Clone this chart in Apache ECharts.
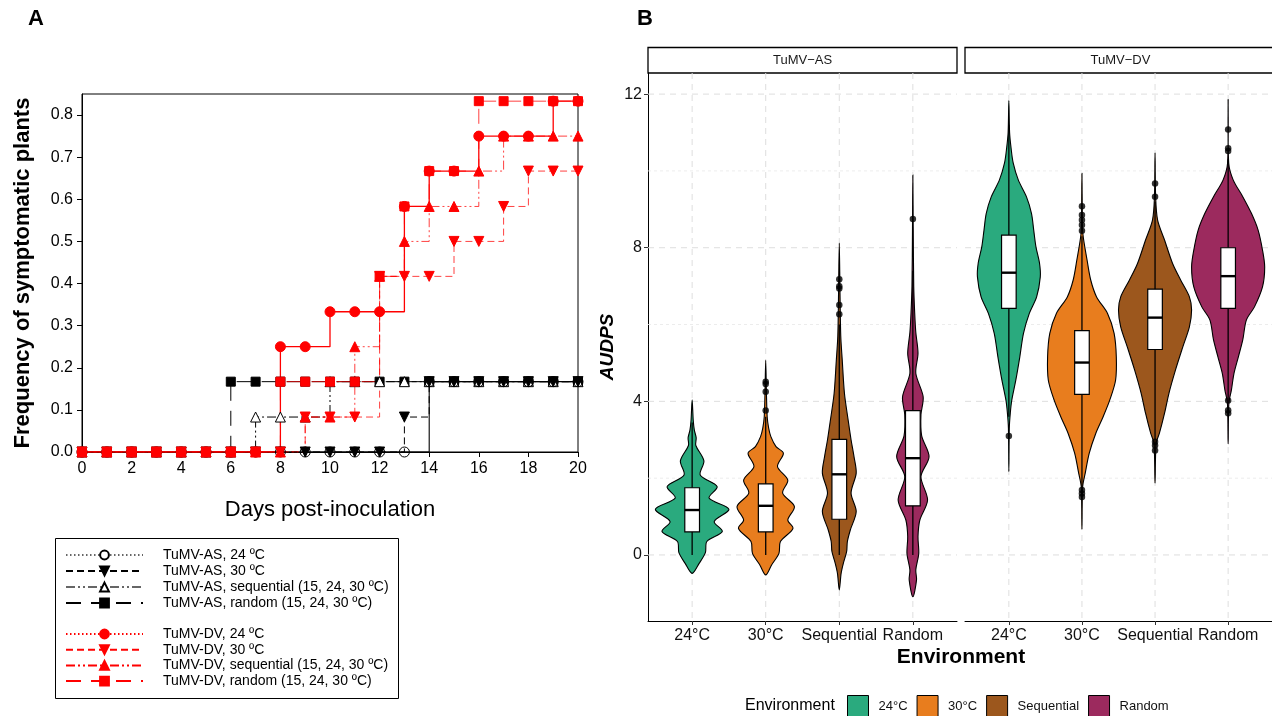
<!DOCTYPE html>
<html><head><meta charset="utf-8">
<script src="https://cdn.jsdelivr.net/npm/echarts@6/dist/echarts.min.js"></script>
<style>html,body{margin:0;padding:0;background:#fff}#c{width:1272px;height:716px}</style>
</head><body><div id="c"></div>
<script>
// ================= Panel A data =================
const days   = [0,1,2,3,4,5,6,7,8,9,10,11,12,13,14,15,16,17,18,19,20];
const asT24  = [0,0,0,0,0,0,0,0,0,0,0,0,0,0,0.167,0.167,0.167,0.167,0.167,0.167,0.167];
const asT30  = [0,0,0,0,0,0,0,0,0,0,0,0,0,0.083,0.167,0.167,0.167,0.167,0.167,0.167,0.167];
const asSeq  = [0,0,0,0,0,0,0,0.083,0.083,0.083,0.167,0.167,0.167,0.167,0.167,0.167,0.167,0.167,0.167,0.167,0.167];
const asRand = [0,0,0,0,0,0,0.167,0.167,0.167,0.167,0.167,0.167,0.167,0.167,0.167,0.167,0.167,0.167,0.167,0.167,0.167];
const dvT24  = [0,0,0,0,0,0,0,0,0.25,0.25,0.333,0.333,0.333,0.583,0.667,0.667,0.75,0.75,0.75,0.833,0.833];
const dvT30  = [0,0,0,0,0,0,0,0,0,0.083,0.083,0.083,0.417,0.417,0.417,0.5,0.5,0.583,0.667,0.667,0.667];
const dvSeq  = [0,0,0,0,0,0,0,0,0,0.083,0.083,0.25,0.417,0.5,0.583,0.583,0.667,0.75,0.75,0.75,0.75];
const dvRand = [0,0,0,0,0,0,0,0,0.167,0.167,0.167,0.167,0.417,0.583,0.667,0.667,0.833,0.833,0.833,0.833,0.833];
const seriesNamesA = ['TuMV-AS, 24 ºC','TuMV-AS, 30 ºC','TuMV-AS, sequential (15, 24, 30 ºC)','TuMV-AS, random (15, 24, 30 ºC)',
                      'TuMV-DV, 24 ºC','TuMV-DV, 30 ºC','TuMV-DV, sequential (15, 24, 30 ºC)','TuMV-DV, random (15, 24, 30 ºC)'];
const yTicksA = [0,0.1,0.2,0.3,0.4,0.5,0.6,0.7,0.8];

// ================= Panel B data =================
const facetNames = ['TuMV\u2212AS','TuMV\u2212DV'];
const envLabels  = ['24°C','30°C','Sequential','Random'];
const yTicksB = [0,4,8,12];
const yMinorB = [2,6,10];
// violin outlines: [AUDPS value, half width (category units)]
const vAS24 = [[4.04,0],[3.5,0.015],[3.25,0.03],[3.05,0.055],[2.85,0.05],[2.45,0.16],[2.08,0.11],[1.78,0.34],[1.48,0.23],[1.19,0.5],[0.87,0.3],[0.61,0.41],[0.35,0.2],[0.06,0.18],[-0.22,0.095],[-0.48,0]];
const vAS30 = [[5.07,0],[4.2,0.01],[3.6,0.02],[3.3,0.04],[3.08,0.07],[2.82,0.14],[2.65,0.24],[2.3,0.16],[1.95,0.3],[1.61,0.23],[1.26,0.39],[0.91,0.3],[0.69,0.37],[0.35,0.2],[0.04,0.18],[-0.26,0.08],[-0.52,0]];
const vASSeq = [[8.12,0],[6.8,0.01],[5.7,0.02],[5.08,0.04],[4.21,0.07],[3.52,0.12],[3.0,0.16],[2.56,0.2],[2.13,0.23],[1.61,0.16],[1.13,0.23],[0.65,0.15],[0.35,0.11],[0.09,0.1],[-0.22,0.055],[-0.48,0.025],[-0.91,0]];
const vASRand = [[9.89,0],[8.5,0.005],[7.0,0.012],[6.3,0.025],[5.8,0.04],[5.25,0.07],[4.73,0.04],[4.12,0.14],[3.65,0.11],[3.1,0.12],[2.56,0.22],[2.04,0.11],[1.43,0.2],[0.91,0.095],[0.48,0.07],[0.04,0.08],[-0.39,0.04],[-0.65,0.05],[-1.09,0]];
const vDV24 = [[11.83,0],[11.0,0.01],[10.6,0.03],[10.2,0.06],[9.76,0.13],[9.33,0.24],[8.89,0.31],[8.46,0.34],[8.03,0.37],[7.59,0.42],[7.24,0.43],[6.72,0.38],[6.29,0.28],[5.77,0.2],[5.16,0.15],[4.55,0.095],[4.03,0.04],[3.7,0.02],[3.3,0.006],[2.17,0]];
const vDV30 = [[9.93,0],[8.9,0.005],[8.37,0.012],[7.68,0.07],[7.16,0.12],[6.72,0.2],[6.29,0.35],[5.77,0.44],[5.16,0.47],[4.55,0.46],[4.03,0.38],[3.6,0.29],[3.17,0.19],[2.65,0.1],[2.13,0.045],[1.78,0.01],[0.67,0]];
const vDVSeq = [[10.47,0],[9.33,0.008],[8.72,0.035],[8.2,0.13],[7.59,0.24],[7.16,0.35],[6.72,0.47],[6.38,0.5],[5.94,0.47],[5.42,0.38],[4.82,0.28],[4.21,0.19],[3.69,0.13],[3.17,0.06],[2.91,0.015],[1.87,0]];
const vDVRand = [[11.86,0],[10.2,0.008],[9.76,0.07],[9.33,0.2],[8.89,0.32],[8.46,0.41],[7.94,0.47],[7.5,0.5],[6.98,0.47],[6.46,0.36],[6.12,0.25],[5.6,0.2],[5.16,0.14],[4.73,0.08],[4.3,0.045],[3.95,0.01],[2.89,0]];
// box stats: [whisker low, Q1, median, Q3, whisker high]
const boxAS24 = [0, 0.60, 1.17, 1.75, 3.45];
const boxAS30 = [0, 0.60, 1.28, 1.85, 3.6];
const boxASSeq = [0, 0.93, 2.10, 3.01, 6.0];
const boxASRand = [0, 1.28, 2.52, 3.76, 7.4];
const boxDV24 = [3.6, 6.42, 7.35, 8.33, 11.2];
const boxDV30 = [1.75, 4.18, 5.01, 5.84, 8.3];
const boxDVSeq = [3.0, 5.35, 6.18, 6.92, 9.2];
const boxDVRand = [4.1, 6.42, 7.26, 8.0, 10.3];
// outliers
const outAS24 = [];
const outAS30 = [4.51, 4.45, 4.25, 3.76];
const outASSeq = [7.18, 7.0, 6.94, 6.51, 6.27];
const outASRand = [8.75];
const outDV24 = [3.10];
const outDV30 = [9.08, 8.85, 8.72, 8.59, 8.44, 1.69, 1.6, 1.51];
const outDVSeq = [9.67, 9.33, 2.95, 2.85, 2.72];
const outDVRand = [11.08, 10.59, 10.52, 4.02, 3.77, 3.69];

// ================= styles / layout =================
const FONT = "'Liberation Sans', Arial, Helvetica, sans-serif";
const envColors = ['#2AAA7E', '#E87D1E', '#9C571D', '#9C2A5E'];
const RED = '#ff0000', BLK = '#000000';
const gridA = {left: 82, top: 94, width: 496, height: 358};
const gridB1 = {left: 648, top: 73, width: 309, height: 548};
const gridB2 = {left: 965, top: 73, width: 311, height: 548};

const dataA = [asT24, asT30, asSeq, asRand, dvT24, dvT30, dvSeq, dvRand];
const styleA = [
  {color: BLK, symbol: 'circle', rot: 0, size: 10, fill: 'rgba(0,0,0,0)', legFill: '#fff', legDash: [1.5, 2.5], legColor: '#666', dash: 'solid', w: 1.1},
  {color: BLK, symbol: 'triangle', rot: 180, size: 10, fill: BLK, legFill: BLK, legDash: [7, 4], legColor: BLK, dash: [7, 4], w: 1},
  {color: BLK, symbol: 'triangle', rot: 0, size: 10, fill: '#fff', legFill: '#fff', legDash: [9, 3, 2, 3, 2, 3], legColor: '#666', dash: [9, 3, 2, 3, 2, 3], w: 1},
  {color: BLK, symbol: 'rect', rot: 0, size: 9, fill: BLK, legFill: BLK, legDash: [15, 10], legColor: BLK, dash: [15, 10], w: 1},
  {color: RED, symbol: 'circle', rot: 0, size: 10, fill: RED, legFill: RED, legDash: [1.5, 2.5], legColor: RED, dash: 'solid', w: 1.3},
  {color: RED, symbol: 'triangle', rot: 180, size: 10, fill: RED, legFill: RED, legDash: [7, 4], legColor: RED, dash: [7, 4], w: 1},
  {color: RED, symbol: 'triangle', rot: 0, size: 10, fill: RED, legFill: RED, legDash: [9, 3, 2, 3, 2, 3], legColor: RED, dash: [9, 3, 2, 3, 2, 3], w: 1},
  {color: RED, symbol: 'rect', rot: 0, size: 9, fill: RED, legFill: RED, legDash: [15, 10], legColor: RED, dash: [15, 10], w: 1}
];
const plotOrder = [3, 2, 1, 0, 5, 6, 7, 4];

const series = [];
// legend-only series (panel A)
seriesNamesA.forEach((nm, i) => {
  const s = styleA[i];
  series.push({
    type: 'line', name: nm, data: [], xAxisIndex: 0, yAxisIndex: 0,
    symbol: s.symbol, symbolRotate: s.rot, symbolSize: s.size,
    lineStyle: {color: s.legColor, width: 1.2, type: s.legDash},
    itemStyle: {color: s.legFill, borderColor: s.color, borderWidth: 1}
  });
});
// plotted step series (panel A)
plotOrder.forEach(i => {
  const s = styleA[i];
  series.push({
    type: 'line', name: 'plot ' + i, step: 'end', xAxisIndex: 0, yAxisIndex: 0,
    data: days.map((d, k) => [d, dataA[i][k]]),
    symbol: s.symbol, symbolRotate: s.rot, symbolSize: s.size, showAllSymbol: true,
    lineStyle: {color: s.color, width: s.w, type: s.dash, opacity: s.color === RED && s.dash !== 'solid' ? 0.75 : 1},
    itemStyle: {color: s.fill, borderColor: s.color, borderWidth: 1},
    emphasis: {disabled: true}, animation: false, z: 3
  });
});

// ---------- Panel B ----------
const profiles = [[vAS24, vAS30, vASSeq, vASRand], [vDV24, vDV30, vDVSeq, vDVRand]];
const boxes = [[boxAS24, boxAS30, boxASSeq, boxASRand], [boxDV24, boxDV30, boxDVSeq, boxDVRand]];
const outliers = [[outAS24, outAS30, outASSeq, outASRand], [outDV24, outDV30, outDVSeq, outDVRand]];

function gridRender(horizontal, majorSet) {
  return function (params, api) {
    const cs = params.coordSys;
    const v = horizontal ? api.value(1) : api.value(0);
    const major = majorSet.indexOf(v) >= 0;
    const style = major ? {stroke: '#dedede', lineWidth: 1, lineDash: [6, 5]}
                        : {stroke: '#e8e8e8', lineWidth: 0.8, lineDash: [3, 3]};
    if (horizontal) {
      const p = api.coord([1, v]);
      return {type: 'line', shape: {x1: cs.x, y1: p[1], x2: cs.x + cs.width, y2: p[1]}, style};
    }
    const p = api.coord([v, 0]);
    return {type: 'line', shape: {x1: p[0], y1: cs.y, x2: p[0], y2: cs.y + cs.height}, style};
  };
}

function violinRender(profile, stats) {
  return function (params, api) {
    const cat = api.value(0);
    const right = profile.map(p => api.coord([cat + p[1], p[0]]));
    const left = profile.slice(1, -1).reverse().map(p => api.coord([cat - p[1], p[0]]));
    const pts = right.concat(left);
    const color = api.visual('color');
    const [lo, q1, med, q3, hi] = stats;
    const bw = 0.1;
    const a = api.coord([cat - bw, q3]), b = api.coord([cat + bw, q1]);
    const m1 = api.coord([cat - bw, med]), m2 = api.coord([cat + bw, med]);
    const w1 = api.coord([cat, lo]), w2 = api.coord([cat, hi]);
    return {type: 'group', children: [
      {type: 'polygon', shape: {points: pts, smooth: 0.3}, style: {fill: color, stroke: '#000', lineWidth: 1.1}},
      {type: 'line', shape: {x1: w1[0], y1: w1[1], x2: w2[0], y2: w2[1]}, style: {stroke: '#000', lineWidth: 1.3}},
      {type: 'rect', shape: {x: a[0], y: a[1], width: b[0] - a[0], height: b[1] - a[1]}, style: {fill: '#fff', stroke: '#000', lineWidth: 1.2}},
      {type: 'line', shape: {x1: m1[0], y1: m1[1], x2: m2[0], y2: m2[1]}, style: {stroke: '#000', lineWidth: 2.4}}
    ]};
  };
}

const catPos = envLabels.map((_, i) => i + 1);
[0, 1].forEach(f => {
  const ax = f + 1;
  series.push({type: 'custom', name: 'hgrid' + f, xAxisIndex: ax, yAxisIndex: ax, z: 1, silent: true,
    data: yTicksB.concat(yMinorB).map(v => [1, v]), renderItem: gridRender(true, yTicksB)});
  series.push({type: 'custom', name: 'vgrid' + f, xAxisIndex: ax, yAxisIndex: ax, z: 1, silent: true,
    data: catPos.map(c => [c, 0]), renderItem: gridRender(false, catPos)});
  envLabels.forEach((env, e) => {
    series.push({type: 'custom', name: env, xAxisIndex: ax, yAxisIndex: ax, z: 2, silent: true,
      itemStyle: {color: envColors[e]},
      data: [[catPos[e], boxes[f][e][2]]], renderItem: violinRender(profiles[f][e], boxes[f][e])});
  });
  const pts = [];
  outliers[f].forEach((arr, e) => arr.forEach(v => pts.push([catPos[e], v])));
  series.push({type: 'scatter', name: 'out' + f, xAxisIndex: ax, yAxisIndex: ax, z: 4, silent: true,
    data: pts, symbolSize: 6.5, itemStyle: {color: '#000'}});
});

const axisLineBlack = {show: true, onZero: false, lineStyle: {color: '#000', width: 1}};
function xAxisB(g) {
  return {gridIndex: g, type: 'value', min: 0.4, max: 4.6,
    axisLine: axisLineBlack,
    axisTick: {show: true, customValues: catPos, length: 4, lineStyle: {color: '#333'}},
    axisLabel: {customValues: catPos, formatter: v => envLabels[Math.round(v) - 1], fontSize: 16, color: '#111', margin: 7, fontFamily: FONT},
    splitLine: {show: false}};
}

const option = {
  animation: false,
  backgroundColor: '#fff',
  textStyle: {fontFamily: FONT},
  grid: [
    Object.assign({show: true, borderColor: '#000', borderWidth: 1, backgroundColor: 'transparent'}, gridA),
    gridB1, gridB2
  ],
  xAxis: [
    {gridIndex: 0, type: 'value', min: 0, max: 20, interval: 2,
      axisLine: {show: true, onZero: false, lineStyle: {color: '#000'}},
      axisTick: {show: true, length: 5, lineStyle: {color: '#000'}},
      axisLabel: {fontSize: 16, color: '#000', margin: 9, fontFamily: FONT},
      splitLine: {show: false},
      name: 'Days post-inoculation', nameLocation: 'middle', nameGap: 47,
      nameTextStyle: {fontSize: 22, color: '#000', fontFamily: FONT}},
    xAxisB(1), xAxisB(2)
  ],
  yAxis: [
    {gridIndex: 0, type: 'value', min: 0, max: 0.85,
      axisLine: {show: true, onZero: false, lineStyle: {color: '#000'}},
      axisTick: {show: true, customValues: yTicksA, length: 5, lineStyle: {color: '#000'}},
      axisLabel: {customValues: yTicksA, formatter: v => v.toFixed(1), fontSize: 16, color: '#000', margin: 9, fontFamily: FONT},
      splitLine: {show: false},
      name: 'Frequency of symptomatic plants', nameLocation: 'middle', nameGap: 48,
      nameTextStyle: {fontSize: 22, fontWeight: 'bold', color: '#000', fontFamily: FONT}},
    {gridIndex: 1, type: 'value', min: -1.72, max: 12.55,
      axisLine: axisLineBlack,
      axisTick: {show: true, customValues: yTicksB, length: 4, lineStyle: {color: '#333'}},
      axisLabel: {customValues: yTicksB, fontSize: 16, color: '#111', margin: 6, fontFamily: FONT},
      splitLine: {show: false},
      name: 'AUDPS', nameLocation: 'middle', nameGap: 31,
      nameTextStyle: {fontSize: 19, fontWeight: 'bold', fontStyle: 'italic', color: '#000', fontFamily: FONT}},
    {gridIndex: 2, type: 'value', min: -1.72, max: 12.55, show: false, splitLine: {show: false}}
  ],
  legend: [
    {data: seriesNamesA.slice(0, 4), orient: 'vertical', left: 65, top: 548, itemWidth: 77, itemHeight: 11, itemGap: 2,
      padding: 0, selectedMode: false, textStyle: {fontSize: 14, color: '#000', fontFamily: FONT, padding: [0, 0, 0, 15]}},
    {data: seriesNamesA.slice(4), orient: 'vertical', left: 65, top: 627, itemWidth: 77, itemHeight: 11, itemGap: 1.7,
      padding: 0, selectedMode: false, textStyle: {fontSize: 14, color: '#000', fontFamily: FONT, padding: [0, 0, 0, 15]}},
    {data: envLabels, orient: 'horizontal', left: 847, top: 695, itemWidth: 21, itemHeight: 21, itemGap: 9, icon: 'rect',
      padding: 0, selectedMode: false, itemStyle: {borderColor: '#000', borderWidth: 1},
      textStyle: {fontSize: 13, color: '#111', fontFamily: FONT, padding: [0, 0, 0, 5]}}
  ],
  graphic: [
    {type: 'text', left: 28, top: 8, style: {text: 'A', font: `bold 22px ${FONT}`, fill: '#000'}},
    {type: 'text', left: 637, top: 8, style: {text: 'B', font: `bold 22px ${FONT}`, fill: '#000'}},
    {type: 'rect', shape: {x: 55.5, y: 538.5, width: 343, height: 160}, style: {fill: 'none', stroke: '#000', lineWidth: 1}},
    {type: 'rect', shape: {x: gridB1.left, y: 47.5, width: gridB1.width, height: 25.5}, style: {fill: '#fff', stroke: '#000', lineWidth: 1.3}},
    {type: 'rect', shape: {x: gridB2.left, y: 47.5, width: gridB2.width, height: 25.5}, style: {fill: '#fff', stroke: '#000', lineWidth: 1.3}},
    {type: 'text', x: gridB1.left + gridB1.width / 2, y: 60.5, style: {text: facetNames[0], font: `13px ${FONT}`, fill: '#1a1a1a', align: 'center', verticalAlign: 'middle'}},
    {type: 'text', x: gridB2.left + gridB2.width / 2, y: 60.5, style: {text: facetNames[1], font: `13px ${FONT}`, fill: '#1a1a1a', align: 'center', verticalAlign: 'middle'}},
    {type: 'text', x: 961, y: 657, style: {text: 'Environment', font: `bold 21px ${FONT}`, fill: '#000', align: 'center', verticalAlign: 'middle'}},
    {type: 'text', x: 745, y: 706, style: {text: 'Environment', font: `16px ${FONT}`, fill: '#000', align: 'left', verticalAlign: 'middle'}}
  ],
  series: series
};

const chart = echarts.init(document.getElementById('c'), null, {renderer: 'canvas'});
chart.setOption(option);
</script>
</body></html>
